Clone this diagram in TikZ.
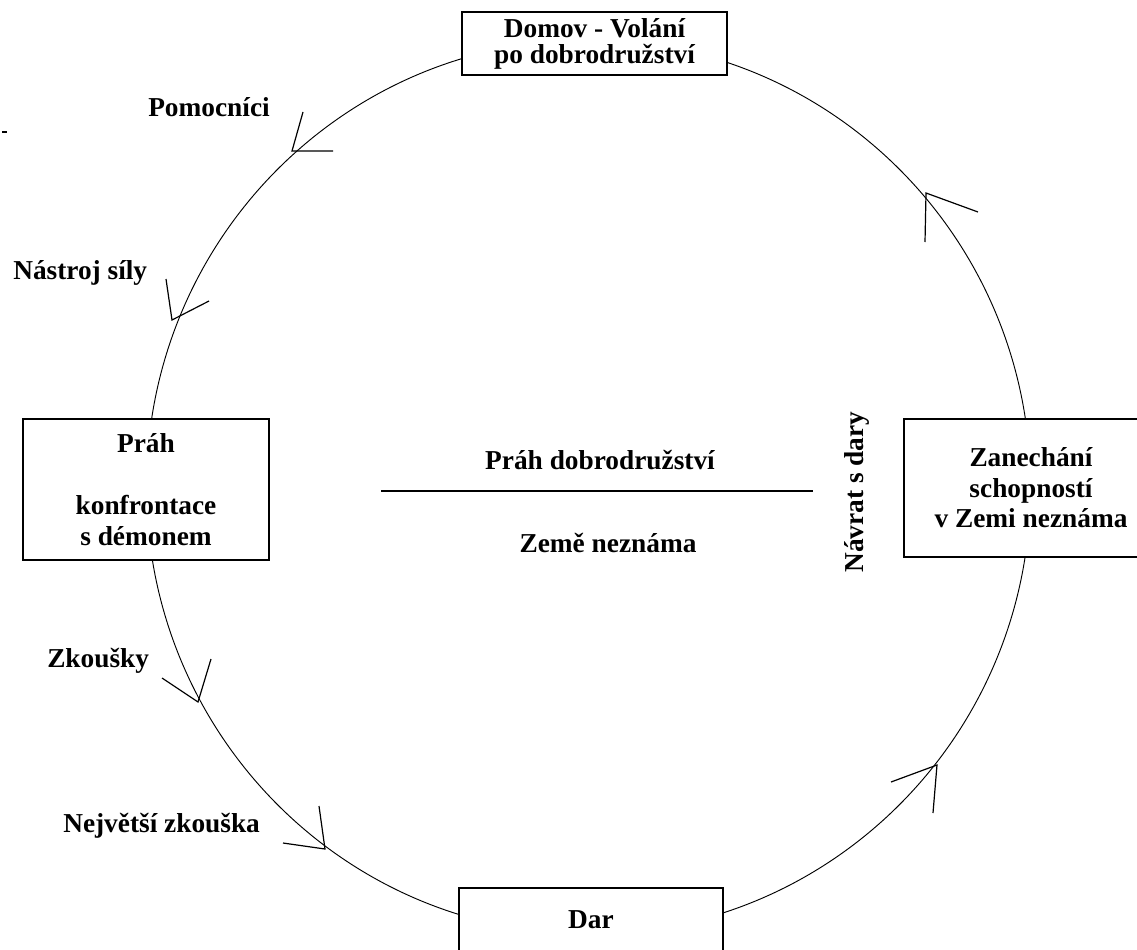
\documentclass[tikz,border=0pt]{standalone}
\usepackage{fontspec}
\setmainfont{Liberation Serif}
\begin{document}
\begin{tikzpicture}[x=0.75pt,y=-0.75pt,
  lbl/.style={font=\fontsize{20.5}{22}\selectfont\bfseries, inner sep=0pt},
  stagebox/.style={draw, line width=0.8pt, fill=white, inner sep=0pt, align=center},
  ring/.style={line width=0.7pt},
  arm/.style={line width=0.9pt}]
\useasboundingbox (0,0) rectangle (1137,949);
\clip (0,0) rectangle (1137,949);
% the cycle
\draw[ring] (588.5,487) ellipse [x radius=331.5pt, y radius=335.25pt];
% arrowheads
\coordinate (t1) at (292,151); \coordinate (t1a) at (303,112); \coordinate (t1b) at (333,151);
\coordinate (t2) at (172,320); \coordinate (t2a) at (166,279); \coordinate (t2b) at (209,301);
\coordinate (t3) at (198,702); \coordinate (t3a) at (162,678); \coordinate (t3b) at (211,659);
\coordinate (t4) at (325,849); \coordinate (t4a) at (283,843); \coordinate (t4b) at (319,806);
\coordinate (t5) at (926,193); \coordinate (t5a) at (925,242); \coordinate (t5b) at (978,212);
\coordinate (t6) at (937,765); \coordinate (t6a) at (891,782); \coordinate (t6b) at (933,813);
\draw[arm] (t1a) -- (t1) -- (t1b);
\draw[arm] (t2a) -- (t2) -- (t2b);
\draw[arm] (t3a) -- (t3) -- (t3b);
\draw[arm] (t4a) -- (t4) -- (t4b);
\draw[arm] (t5a) -- (t5) -- (t5b);
\draw[arm] (t6a) -- (t6) -- (t6b);
% boxes
\node[stagebox, minimum width=198.75pt, minimum height=47.25pt, font=\fontsize{20.5}{19.5}\selectfont\bfseries] (home) at (594.5,43.5) {Domov - Volání\\po dobrodružství};
\node[stagebox, minimum width=184.5pt, minimum height=105.75pt, font=\fontsize{20.5}{23.25}\selectfont\bfseries] (threshold) at (146,489.5) {Práh\\[23.25pt]konfrontace\\s démonem};
\node[stagebox, minimum width=190.5pt, minimum height=103.5pt, font=\fontsize{20.5}{22.9}\selectfont\bfseries] (leave) at (1031,488) {Zanechání\\schopností\\v Zemi neznáma};
\node[stagebox, minimum width=198pt, minimum height=47.25pt, font=\fontsize{20.5}{22}\selectfont\bfseries] (gift) at (591,919.5) {Dar};
% labels
\node[lbl, anchor=base west] (helpers) at (148,116) {Pomocníci};
\node[lbl, anchor=base west] (tool) at (13,279) {Nástroj síly};
\node[lbl, anchor=base west] (trials) at (47,667) {Zkoušky};
\node[lbl, anchor=base west] (bigtrial) at (63,832) {Největší zkouška};
\node[lbl, anchor=base] (advthr) at (600,469) {Práh dobrodružství};
\node[lbl, anchor=base] (unknown) at (608,552) {Země neznáma};
\node[lbl, rotate=90] (return) at (857,492) {Návrat s dary};
% dividing line
\coordinate (l1) at (381,491); \coordinate (l2) at (813,491);
\draw[line width=1pt] (l1) -- (l2);
% small stray dash
\coordinate (d1) at (2,132); \coordinate (d2) at (7,132);
\draw[line width=0.8pt] (d1) -- (d2);
\end{tikzpicture}
\end{document}
